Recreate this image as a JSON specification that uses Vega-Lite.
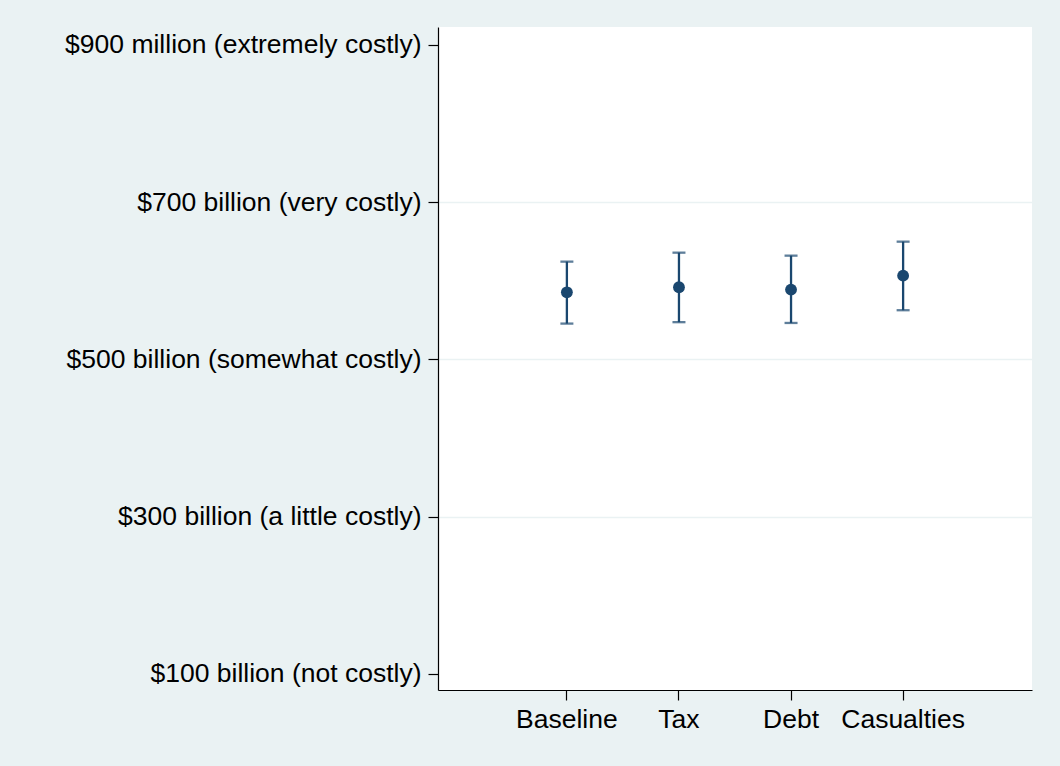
{
  "$schema": "https://vega.github.io/schema/vega-lite/v6.json",
  "autosize": {"type": "none"},
  "padding": {"left": 438, "top": 27, "right": 28, "bottom": 76},
  "width": 594,
  "height": 663,
  "background": "#EAF2F3",
  "config": {
    "view": {"fill": "white", "stroke": null},
    "font": "Liberation Sans",
    "axis": {
      "labelFont": "Liberation Sans",
      "labelFontSize": 26.5,
      "labelColor": "#000000",
      "labelLimit": 0,
      "domainColor": "#000000",
      "domainWidth": 1.2,
      "tickColor": "#000000",
      "tickWidth": 1.2,
      "tickSize": 10,
      "title": null
    }
  },
  "data": {
    "values": [
      {"condition": "Baseline", "mean": 3.427, "lo": 3.228, "hi": 3.622},
      {"condition": "Tax", "mean": 3.459, "lo": 3.237, "hi": 3.679},
      {"condition": "Debt", "mean": 3.444, "lo": 3.232, "hi": 3.660},
      {"condition": "Casualties", "mean": 3.533, "lo": 3.313, "hi": 3.749}
    ]
  },
  "encoding": {
    "x": {
      "field": "condition",
      "type": "nominal",
      "sort": ["Baseline", "Tax", "Debt", "Casualties"],
      "scale": {"type": "band", "paddingInner": 0, "paddingOuter": 0.65},
      "axis": {"labelAngle": 0, "labelPadding": 6, "grid": false, "bandPosition": 0.5}
    }
  },
  "layer": [
    {
      "mark": {"type": "rule", "color": "#1A476F", "strokeWidth": 2.3},
      "encoding": {
        "y": {
          "field": "lo",
          "type": "quantitative",
          "scale": {"domain": [0.898, 5.114], "nice": false, "zero": false},
          "axis": {
            "values": [1, 2, 3, 4, 5],
            "labelPadding": 7,
            "grid": true,
            "gridColor": "#EAF2F3",
            "gridWidth": 1.5,
            "gridOpacity": {"condition": {"test": "datum.value == 1 || datum.value == 5", "value": 0}, "value": 1},
            "labelExpr": "datum.value == 1 ? '$100 billion (not costly)' : datum.value == 2 ? '$300 billion (a little costly)' : datum.value == 3 ? '$500 billion (somewhat costly)' : datum.value == 4 ? '$700 billion (very costly)' : '$900 million (extremely costly)'"
          }
        },
        "y2": {"field": "hi"}
      }
    },
    {
      "mark": {"type": "tick", "color": "#1A476F", "thickness": 2.3, "size": 13},
      "encoding": {"y": {"field": "lo", "type": "quantitative"}}
    },
    {
      "mark": {"type": "tick", "color": "#1A476F", "thickness": 2.3, "size": 13},
      "encoding": {"y": {"field": "hi", "type": "quantitative"}}
    },
    {
      "mark": {"type": "point", "filled": true, "color": "#1A476F", "opacity": 1, "size": 140},
      "encoding": {"y": {"field": "mean", "type": "quantitative"}}
    }
  ]
}
